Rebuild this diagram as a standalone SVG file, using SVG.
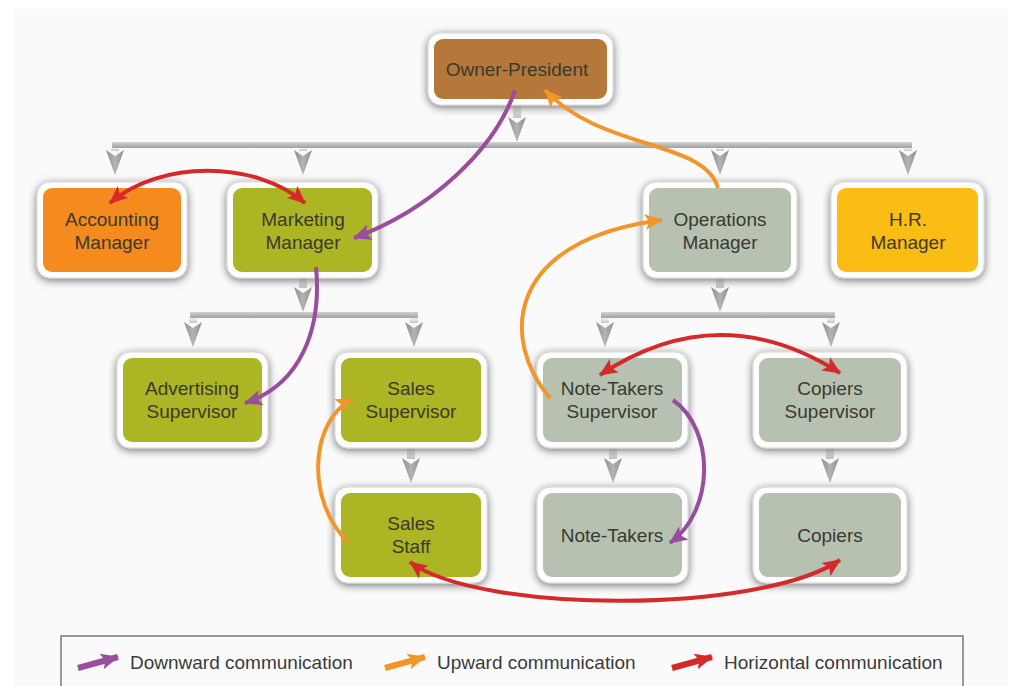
<svg xmlns="http://www.w3.org/2000/svg" xmlns:xlink="http://www.w3.org/1999/xlink" width="1024" height="686" viewBox="0 0 1024 686">
<style>
.outer{fill:#ffffff;stroke:#d4d4d4;stroke-width:1;filter:url(#sh)}
.t{font-family:"Liberation Sans",Arial,sans-serif;font-size:19px;fill:#3a3a2e;text-anchor:middle}
.lg{font-family:"Liberation Sans",Arial,sans-serif;font-size:19px;fill:#3a3a3a}
.bar{fill:url(#barg)}
.stem{fill:url(#stemg)}
.gh{fill:url(#headg)}
.pu{stroke:#9a4c9f;stroke-width:4;fill:none;marker-end:url(#mpu)}
.or{stroke:#f0962a;stroke-width:4;fill:none;marker-end:url(#mor)}
.rd{stroke:#d42a2a;stroke-width:4;fill:none;marker-end:url(#mrd);marker-start:url(#mrd)}
</style>
<defs>
<filter id="sh" x="-20%" y="-20%" width="140%" height="150%">
<feGaussianBlur in="SourceAlpha" stdDeviation="4"/>
<feOffset dx="0" dy="2" result="b"/>
<feComponentTransfer><feFuncA type="linear" slope="0.55"/></feComponentTransfer>
<feMerge><feMergeNode/><feMergeNode in="SourceGraphic"/></feMerge>
</filter>
<linearGradient id="barg" x1="0" y1="0" x2="0" y2="1">
<stop offset="0" stop-color="#d2d2d2"/><stop offset="1" stop-color="#a0a0a0"/>
</linearGradient>
<linearGradient id="stemg" x1="0" y1="0" x2="0" y2="1">
<stop offset="0" stop-color="#f4f4f4"/><stop offset="1" stop-color="#c4c4c4"/>
</linearGradient>
<linearGradient id="headg" x1="0" y1="0" x2="1" y2="0">
<stop offset="0" stop-color="#8e8e8e"/><stop offset="0.5" stop-color="#b4b4b4"/><stop offset="1" stop-color="#8e8e8e"/>
</linearGradient>
<path id="gh" d="M-9,0 L0,6 L9,0 L0,25 Z"/>
<marker id="mpu" markerUnits="userSpaceOnUse" markerWidth="20" markerHeight="18" refX="17" refY="8" orient="auto-start-reverse" viewBox="0 0 20 16"><path d="M0,0 L18,8 L0,16 L4,8 Z" fill="#9a4c9f"/></marker>
<marker id="mor" markerUnits="userSpaceOnUse" markerWidth="20" markerHeight="18" refX="17" refY="8" orient="auto-start-reverse" viewBox="0 0 20 16"><path d="M0,0 L18,8 L0,16 L4,8 Z" fill="#f0962a"/></marker>
<marker id="mrd" markerUnits="userSpaceOnUse" markerWidth="20" markerHeight="18" refX="17" refY="8" orient="auto-start-reverse" viewBox="0 0 20 16"><path d="M0,0 L18,8 L0,16 L4,8 Z" fill="#d42a2a"/></marker>
</defs>
<rect x="0" y="0" width="1024" height="686" fill="#ffffff"/>
<rect x="13" y="9" width="995" height="677" fill="#fafafa"/>

<g id="tree">
<rect class="stem" x="513" y="104" width="8" height="14"/>
<use xlink:href="#gh" class="gh" x="517" y="117"/>
<rect class="bar" x="112" y="142" width="800" height="6"/>
<rect class="stem" x="111" y="148" width="8" height="3"/><use xlink:href="#gh" class="gh" x="115" y="150"/>
<rect class="stem" x="299" y="148" width="8" height="3"/><use xlink:href="#gh" class="gh" x="303" y="150"/>
<rect class="stem" x="716" y="148" width="8" height="3"/><use xlink:href="#gh" class="gh" x="720" y="150"/>
<rect class="stem" x="904" y="148" width="8" height="3"/><use xlink:href="#gh" class="gh" x="908" y="150"/>

<rect class="stem" x="299" y="277" width="8" height="11"/><use xlink:href="#gh" class="gh" x="303" y="287"/>
<rect class="bar" x="190" y="312" width="228" height="6"/>
<rect class="stem" x="189" y="318" width="8" height="5"/><use xlink:href="#gh" class="gh" x="193" y="322"/>
<rect class="stem" x="410" y="318" width="8" height="5"/><use xlink:href="#gh" class="gh" x="414" y="322"/>

<rect class="stem" x="716" y="277" width="8" height="11"/><use xlink:href="#gh" class="gh" x="720" y="287"/>
<rect class="bar" x="601" y="312" width="234" height="6"/>
<rect class="stem" x="601" y="318" width="8" height="5"/><use xlink:href="#gh" class="gh" x="605" y="322"/>
<rect class="stem" x="827" y="318" width="8" height="5"/><use xlink:href="#gh" class="gh" x="831" y="322"/>

<rect class="stem" x="407" y="447" width="8" height="12"/><use xlink:href="#gh" class="gh" x="411" y="458"/>
<rect class="stem" x="609" y="447" width="8" height="12"/><use xlink:href="#gh" class="gh" x="613" y="458"/>
<rect class="stem" x="826" y="447" width="8" height="12"/><use xlink:href="#gh" class="gh" x="830" y="458"/>
</g>

<g id="owner-president">
<rect class="outer" x="428" y="33" width="185" height="72" rx="13"/>
<rect x="434" y="39" width="173" height="60" rx="9" fill="#b5783a"/>
<text class="t" x="517" y="76">Owner-President</text>
</g>
<g id="accounting-manager">
<rect class="outer" x="37" y="182" width="150" height="96" rx="13"/>
<rect x="43" y="188" width="138" height="84" rx="9" fill="#f58a1f"/>
<text class="t" x="112" y="226">Accounting</text><text class="t" x="112" y="249">Manager</text>
</g>
<g id="marketing-manager">
<rect class="outer" x="227" y="182" width="151" height="96" rx="13"/>
<rect x="233" y="188" width="139" height="84" rx="9" fill="#acb524"/>
<text class="t" x="303" y="226">Marketing</text><text class="t" x="303" y="249">Manager</text>
</g>
<g id="operations-manager">
<rect class="outer" x="643" y="182" width="154" height="96" rx="13"/>
<rect x="649" y="188" width="142" height="84" rx="9" fill="#b6c1b2"/>
<text class="t" x="720" y="226">Operations</text><text class="t" x="720" y="249">Manager</text>
</g>
<g id="hr-manager">
<rect class="outer" x="831" y="182" width="153" height="96" rx="13"/>
<rect x="837" y="188" width="141" height="84" rx="9" fill="#fbbc14"/>
<text class="t" x="908" y="226">H.R.</text><text class="t" x="908" y="249">Manager</text>
</g>
<g id="advertising-supervisor">
<rect class="outer" x="117" y="352" width="151" height="96" rx="13"/>
<rect x="123" y="358" width="139" height="84" rx="9" fill="#acb524"/>
<text class="t" x="192" y="395">Advertising</text><text class="t" x="192" y="418">Supervisor</text>
</g>
<g id="sales-supervisor">
<rect class="outer" x="335" y="352" width="152" height="96" rx="13"/>
<rect x="341" y="358" width="140" height="84" rx="9" fill="#acb524"/>
<text class="t" x="411" y="395">Sales</text><text class="t" x="411" y="418">Supervisor</text>
</g>
<g id="note-takers-supervisor">
<rect class="outer" x="537" y="352" width="151" height="96" rx="13"/>
<rect x="543" y="358" width="139" height="84" rx="9" fill="#b6c1b2"/>
<text class="t" x="612" y="395">Note-Takers</text><text class="t" x="612" y="418">Supervisor</text>
</g>
<g id="copiers-supervisor">
<rect class="outer" x="753" y="352" width="154" height="96" rx="13"/>
<rect x="759" y="358" width="142" height="84" rx="9" fill="#b6c1b2"/>
<text class="t" x="830" y="395">Copiers</text><text class="t" x="830" y="418">Supervisor</text>
</g>
<g id="sales-staff">
<rect class="outer" x="335" y="487" width="152" height="96" rx="13"/>
<rect x="341" y="493" width="140" height="84" rx="9" fill="#acb524"/>
<text class="t" x="411" y="530">Sales</text><text class="t" x="411" y="553">Staff</text>
</g>
<g id="note-takers">
<rect class="outer" x="537" y="487" width="151" height="96" rx="13"/>
<rect x="543" y="493" width="139" height="84" rx="9" fill="#b6c1b2"/>
<text class="t" x="612" y="542">Note-Takers</text>
</g>
<g id="copiers">
<rect class="outer" x="753" y="487" width="154" height="96" rx="13"/>
<rect x="759" y="493" width="142" height="84" rx="9" fill="#b6c1b2"/>
<text class="t" x="830" y="542">Copiers</text>
</g>

<g id="connectors">
<path class="pu" d="M515,90 C495,150 430,210 354,238"/>
<path class="pu" d="M316,267 C322,330 300,385 245,403"/>
<path class="pu" d="M673,400 C715,430 715,510 670,543"/>
<path class="or" d="M718,188 C705,140 600,150 545,90"/>
<path class="or" d="M550,398 C500,340 505,240 662,220"/>
<path class="or" d="M348,542 C305,500 310,420 353,399"/>
<path class="rd" d="M110,203 C160,160 255,160 305,203"/>
<path class="rd" d="M600,375 C680,322 760,322 840,373"/>
<path class="rd" d="M410,562 C480,614 760,614 840,560"/>
</g>

<g id="legend">
<path d="M61,686 V636 H963 V686" fill="none" stroke="#7a7a7a" stroke-width="1.5"/>
<line x1="78" y1="668" x2="118" y2="657" stroke="#9a4c9f" stroke-width="6" marker-end="url(#mpu)"/>
<text class="lg" x="130" y="669">Downward communication</text>
<line x1="385" y1="668" x2="425" y2="657" stroke="#f0962a" stroke-width="6" marker-end="url(#mor)"/>
<text class="lg" x="437" y="669">Upward communication</text>
<line x1="672" y1="668" x2="712" y2="657" stroke="#d42a2a" stroke-width="6" marker-end="url(#mrd)"/>
<text class="lg" x="724" y="669">Horizontal communication</text>
</g>
</svg>
